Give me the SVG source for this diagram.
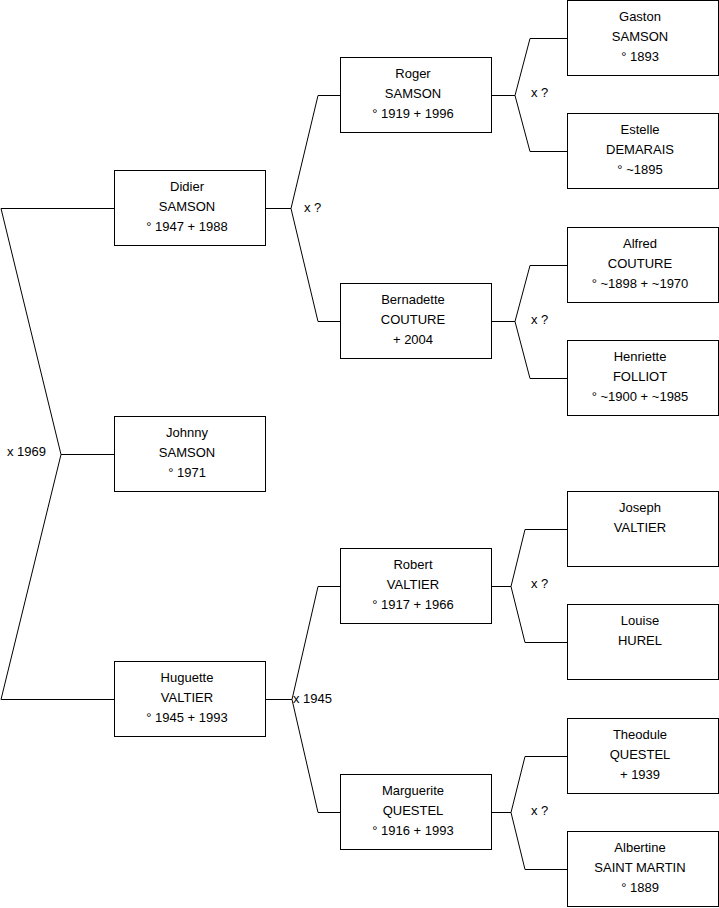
<svg xmlns="http://www.w3.org/2000/svg" width="719" height="908" viewBox="0 0 719 908">
<style>
.box{fill:#fff;stroke:#000;stroke-width:1}
.con{fill:none;stroke:#000;stroke-width:1}
text{font-family:"Liberation Sans",Arial,sans-serif;font-size:13px;fill:#000}
.n text{text-anchor:middle}
</style>
<rect width="719" height="908" fill="#fff"/>
<g id="connectors" class="con">
<path d="M114.5,208.5 H1 L61,454.5 L1,699.5 H114.5 M61,454.5 H114.5"/>
<path d="M265.5,208.5 H291 M340.5,95.5 H318 L291,208.5 L318,321.5 H340.5"/>
<path d="M265.5,699.5 H292 M340.5,586.5 H318 L292,699.5 L318,812.5 H340.5"/>
<path d="M491.5,95.5 H515 M567.5,38.5 H530 L515,95.5 L530,151.5 H567.5"/>
<path d="M491.5,321.5 H515 M567.5,265.5 H530 L515,321.5 L530,378.5 H567.5"/>
<path d="M491.5,586.5 H511 M567.5,529.5 H525 L511,586.5 L525,642.5 H567.5"/>
<path d="M491.5,812.5 H511 M567.5,756.5 H525 L511,812.5 L525,869.5 H567.5"/>
</g>
<g id="labels">
<text x="7" y="456">x 1969</text>
<text x="304" y="212">x ?</text>
<text x="293" y="703">x 1945</text>
<text x="531" y="97">x ?</text>
<text x="531" y="324">x ?</text>
<text x="531" y="588">x ?</text>
<text x="531" y="815">x ?</text>
</g>
<g id="didier" class="n"><rect class="box" x="114.5" y="170.5" width="151" height="75"/><text x="187" y="191">Didier</text><text x="187" y="211">SAMSON</text><text x="187" y="231">° 1947 + 1988</text></g>
<g id="johnny" class="n"><rect class="box" x="114.5" y="416.5" width="151" height="75"/><text x="187" y="437">Johnny</text><text x="187" y="457">SAMSON</text><text x="187" y="477">° 1971</text></g>
<g id="huguette" class="n"><rect class="box" x="114.5" y="661.5" width="151" height="75"/><text x="187" y="682">Huguette</text><text x="187" y="702">VALTIER</text><text x="187" y="722">° 1945 + 1993</text></g>
<g id="roger" class="n"><rect class="box" x="340.5" y="57.5" width="151" height="75"/><text x="413" y="78">Roger</text><text x="413" y="98">SAMSON</text><text x="413" y="118">° 1919 + 1996</text></g>
<g id="bernadette" class="n"><rect class="box" x="340.5" y="283.5" width="151" height="75"/><text x="413" y="304">Bernadette</text><text x="413" y="324">COUTURE</text><text x="413" y="344">+ 2004</text></g>
<g id="robert" class="n"><rect class="box" x="340.5" y="548.5" width="151" height="75"/><text x="413" y="569">Robert</text><text x="413" y="589">VALTIER</text><text x="413" y="609">° 1917 + 1966</text></g>
<g id="marguerite" class="n"><rect class="box" x="340.5" y="774.5" width="151" height="75"/><text x="413" y="795">Marguerite</text><text x="413" y="815">QUESTEL</text><text x="413" y="835">° 1916 + 1993</text></g>
<g id="gaston" class="n"><rect class="box" x="567.5" y="0.5" width="151" height="75"/><text x="640" y="21">Gaston</text><text x="640" y="41">SAMSON</text><text x="640" y="61">° 1893</text></g>
<g id="estelle" class="n"><rect class="box" x="567.5" y="113.5" width="151" height="75"/><text x="640" y="134">Estelle</text><text x="640" y="154">DEMARAIS</text><text x="640" y="174">° ~1895</text></g>
<g id="alfred" class="n"><rect class="box" x="567.5" y="227.5" width="151" height="75"/><text x="640" y="248">Alfred</text><text x="640" y="268">COUTURE</text><text x="640" y="288">° ~1898 + ~1970</text></g>
<g id="henriette" class="n"><rect class="box" x="567.5" y="340.5" width="151" height="75"/><text x="640" y="361">Henriette</text><text x="640" y="381">FOLLIOT</text><text x="640" y="401">° ~1900 + ~1985</text></g>
<g id="joseph" class="n"><rect class="box" x="567.5" y="491.5" width="151" height="75"/><text x="640" y="512">Joseph</text><text x="640" y="532">VALTIER</text></g>
<g id="louise" class="n"><rect class="box" x="567.5" y="604.5" width="151" height="75"/><text x="640" y="625">Louise</text><text x="640" y="645">HUREL</text></g>
<g id="theodule" class="n"><rect class="box" x="567.5" y="718.5" width="151" height="75"/><text x="640" y="739">Theodule</text><text x="640" y="759">QUESTEL</text><text x="640" y="779">+ 1939</text></g>
<g id="albertine" class="n"><rect class="box" x="567.5" y="831.5" width="151" height="75"/><text x="640" y="852">Albertine</text><text x="640" y="872">SAINT MARTIN</text><text x="640" y="892">° 1889</text></g>
</svg>
